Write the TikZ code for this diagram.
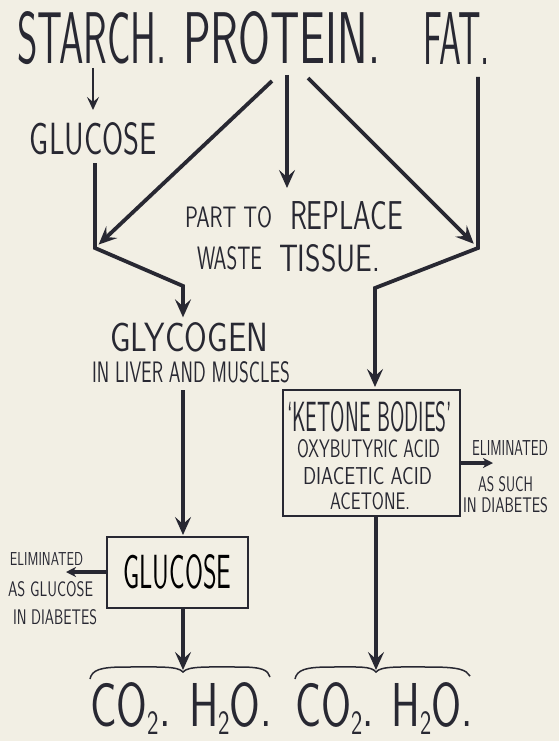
\documentclass[tikz,border=0pt]{standalone}
\usepackage{fontspec}
\usepackage{graphicx}
\newfontfamily\hand{lmsans17-regular.otf}
\usetikzlibrary{arrows.meta}
\definecolor{paper}{RGB}{242,239,228}
\definecolor{ink}{RGB}{40,40,50}
\newcommand{\fitt}[3]{\resizebox{#1pt}{#2pt}{\hand #3}}
\newcommand{\subtwo}{\raisebox{-0.14em}{\scalebox{0.55}{2}}}
\tikzset{
  lbl/.style={inner sep=0pt, outer sep=0pt, text=ink, anchor=south west},
  mainarr/.style={draw=ink, line width=3.8pt, line join=miter,
    -{Stealth[length=18pt,width=16pt,inset=7pt]}},
  thinarr/.style={draw=ink, line width=2.6pt,
    -{Stealth[length=13pt,width=12pt,inset=5pt]}},
  smallarr/.style={draw=ink, line width=3.5pt,
    -{Stealth[length=10pt,width=10pt,inset=3pt]}},
  boxed/.style={draw=ink, line width=1.6pt, inner sep=0pt, anchor=north west},
  bracel/.style={draw=ink, line width=1.5pt},
}
\begin{document}
\begin{tikzpicture}[x=1pt,y=-1pt]
\fill[paper] (0,0) rectangle (559,741);
\useasboundingbox (0,0) rectangle (559,741);

% title
\node[lbl] (starch) at (17,65) {\fitt{150}{52}{STARCH.}};
\node[lbl] (protein) at (183,65) {\fitt{197}{52}{PROTEIN.}};
\node[lbl] (fat) at (423,65) {\fitt{67}{52}{FAT.}};

% upper texts
\node[lbl] (glu1) at (30,155) {\fitt{127}{32}{GLUCOSE}};
\node[lbl] (part) at (185,228) {\fitt{87}{21}{PART TO}};
\node[lbl] (replace) at (290,230) {\fitt{113}{28}{REPLACE}};
\node[lbl] (waste) at (197,270) {\fitt{65}{23}{WASTE}};
\node[lbl] (tissue) at (279,272) {\fitt{101}{27}{TISSUE.}};
\node[lbl] (glyc) at (110,352) {\fitt{158}{29}{GLYCOGEN}};
\node[lbl] (liver) at (92,383) {\fitt{198}{21}{IN LIVER AND MUSCLES}};

% glucose box
\node[boxed, minimum width=141pt, minimum height=71pt] (gbox) at (106,536) {\fitt{108}{34}{GLUCOSE}};
\node[lbl] (elim1) at (10,565) {\fitt{73}{13}{ELIMINATED}};
\node[lbl] (asglu) at (8,597) {\fitt{85}{15}{AS GLUCOSE}};
\node[lbl] (india1) at (13,625) {\fitt{84}{15}{IN DIABETES}};

% ketone box
\node[boxed, minimum width=177pt, minimum height=126pt] (kbox) at (282,389) {};
\node[lbl] (kb) at (287,432) {\fitt{165}{30}{‘KETONE BODIES’}};
\node[lbl] (oxy) at (297,458) {\fitt{143}{18}{OXYBUTYRIC ACID}};
\node[lbl] (diac) at (303,485) {\fitt{129}{17}{DIACETIC ACID}};
\node[lbl] (acet) at (330,510) {\fitt{80}{17}{ACETONE.}};
\node[lbl] (elim2) at (472,455) {\fitt{76}{15}{ELIMINATED}};
\node[lbl] (assuch) at (478,492) {\fitt{55}{15}{AS SUCH}};
\node[lbl] (india2) at (463,513) {\fitt{85}{15}{IN DIABETES}};

% products
\node[inner sep=0pt, anchor=base west, text=ink] (co1) at (90,726)
  {\resizebox{182pt}{44pt}{\hand CO\subtwo. H\subtwo O.}};
\node[inner sep=0pt, anchor=base west, text=ink] (co2) at (295,726)
  {\resizebox{178pt}{44pt}{\hand CO\subtwo. H\subtwo O.}};

% coordinates
\coordinate (sA) at (93,68);
\coordinate (sB) at (93,110);
\coordinate (g1s) at (95,163);
\coordinate (cL) at (95,248);
\coordinate (cL2) at (183,286);
\coordinate (pL) at (272,81);
\coordinate (pC) at (287,75);
\coordinate (pCt) at (287,188);
\coordinate (pR) at (308,78);
\coordinate (fS) at (478,77);
\coordinate (cR) at (478,248);
\coordinate (cR2) at (375,288);
\coordinate (b1) at (183,672);
\coordinate (b2) at (376,672);
\coordinate (e1) at (66,572);
\coordinate (e2) at (493,463);

% connectors
\draw[thinarr] (sA) -- (sB);
\draw[mainarr, shorten >=5pt] (g1s) -- (cL) -- (cL2) -- (glyc.north -| cL2);
\draw[mainarr, shorten >=5pt] (pL) -- (cL);
\draw[mainarr] (pC) -- (pCt);
\draw[mainarr, shorten >=6pt] (pR) -- (cR);
\draw[mainarr, shorten >=2pt] (fS) -- (cR) -- (cR2) -- (kbox.north -| cR2);
\draw[mainarr, shorten <=7pt, shorten >=1pt] (liver.south -| cL2) -- (gbox.north -| cL2);
\draw[mainarr, shorten >=2pt] (gbox.south -| b1) -- (b1);
\draw[mainarr, shorten >=2pt] (kbox.south -| b2) -- (b2);
\draw[smallarr] (gbox.west |- e1) -- (e1);
\draw[smallarr] (kbox.east |- e2) -- (e2);

% braces
\draw[bracel] (90,679) .. controls (92,670) and (100,667) .. (125,667)
  .. controls (160,667) and (178,666) .. (b1)
  .. controls (188,666) and (206,667) .. (240,667)
  .. controls (262,667) and (268,670) .. (270,677);
\draw[bracel] (295,679) .. controls (297,670) and (305,667) .. (330,667)
  .. controls (360,667) and (371,666) .. (b2)
  .. controls (381,666) and (398,667) .. (430,667)
  .. controls (460,667) and (466,670) .. (470,676);
\end{tikzpicture}
\end{document}
